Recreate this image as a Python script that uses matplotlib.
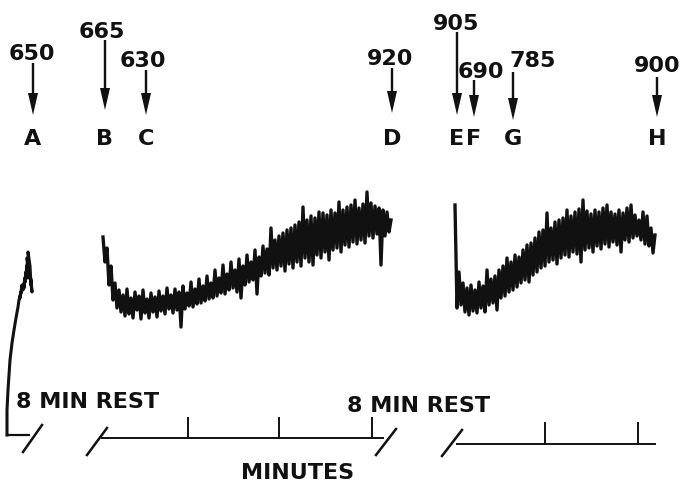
import numpy as np
import matplotlib.pyplot as plt

plt.rcParams['font.family'] = ['DejaVu Sans']

# stimulus markers: letter, value, position on record
marker_labels = ['A', 'B', 'C', 'D', 'E', 'F', 'G', 'H']
marker_values = ['650', '665', '630', '920', '905', '690', '785', '900']
marker_pos = [33, 105, 146, 392, 457, 474, 513, 657]

# where each value text sits (centre x, baseline y) and where its arrow starts/ends
value_text_x = [32, 102, 143, 390, 456, 481, 533, 657]
value_text_y = [60, 38, 67, 65, 30, 78, 67, 72]
arrow_top = [63, 40, 70, 68, 32, 80, 72, 77]
arrow_tip = [115, 110, 115, 113, 115, 117, 120, 117]

# trace 1 - short rising piece before first rest
ramp_x = [7, 7, 8, 10, 12, 14, 16, 18, 19, 21, 20, 22, 23, 25, 24, 26, 25, 27, 28,
          27, 29, 28, 30, 31, 30, 32, 31]
ramp_y = [435, 410, 390, 360, 343, 330, 318, 307, 300, 292, 298, 285, 290, 278, 288,
          272, 282, 265, 278, 258, 270, 252, 266, 285, 275, 292, 280]

# trace 2 - between the two rests (sampled every 2 units from x=103)
trace2_start = 103
trace2_y = [237, 262, 248, 285, 266, 300, 283, 308, 290, 312, 295, 316, 289, 314, 298,
            318, 292, 310, 296, 319, 290, 313, 299, 318, 293, 312, 297, 317, 291, 311,
            296, 314, 288, 309, 295, 313, 289, 310, 292, 327, 286, 309, 293, 306, 282,
            307, 289, 304, 279, 303, 286, 301, 276, 299, 283, 298, 270, 296, 278, 293,
            265, 294, 274, 290, 262, 288, 270, 292, 259, 298, 266, 285, 255, 282, 262,
            280, 250, 294, 257, 276, 246, 273, 249, 275, 228, 268, 240, 270, 236, 266,
            233, 271, 230, 264, 228, 268, 225, 262, 222, 266, 207, 258, 220, 262, 216,
            265, 218, 255, 212, 258, 213, 252, 215, 260, 210, 250, 213, 248, 202, 252,
            210, 245, 207, 247, 205, 242, 200, 244, 208, 240, 204, 243, 192, 236, 203,
            238, 206, 234, 208, 265, 210, 236, 212, 232, 220]

# trace 3 - after second rest (sampled every 2 units from x=455)
trace3_start = 455
trace3_y = [205, 308, 272, 305, 283, 312, 288, 315, 285, 311, 290, 313, 282, 308, 286,
            312, 270, 305, 279, 303, 276, 310, 270, 298, 266, 296, 258, 292, 262, 290,
            255, 287, 257, 283, 250, 280, 245, 282, 243, 275, 238, 272, 232, 268, 230,
            266, 213, 262, 228, 260, 222, 264, 220, 258, 218, 255, 210, 257, 216, 252,
            212, 254, 209, 262, 200, 250, 211, 248, 214, 252, 210, 246, 212, 249, 208,
            244, 205, 247, 212, 242, 214, 245, 210, 252, 213, 240, 208, 242, 205, 238,
            215, 236, 220, 240, 212, 244, 216, 246, 228, 253, 235]

# time axis ticks (one per minute)
ticks1 = [188, 279, 372]
ticks2 = [545, 638]

fig = plt.figure(figsize=(6.82, 4.86), dpi=100)
ax = fig.add_axes([0, 0, 1, 1])
ax.set_xlim(0, 682)
ax.set_ylim(486, 0)
ax.axis('off')

fs = 16
fw = 'bold'
ink = '#111111'

# traces
ax.plot(ramp_x, ramp_y, color=ink, lw=2.2)
x2 = trace2_start + 2 * np.arange(len(trace2_y))
ax.plot(x2, trace2_y, color=ink, lw=2.4)
x3 = trace3_start + 2 * np.arange(len(trace3_y))
ax.plot(x3, trace3_y, color=ink, lw=2.4)

# base of first trace and broken time axis
ax.plot([7, 29], [435, 435], color=ink, lw=1.6)
ax.plot([102, 383], [438, 438], color=ink, lw=1.4)
ax.plot([457, 655], [444, 444], color=ink, lw=1.4)
for t in ticks1:
    ax.plot([t, t], [438, 418], color=ink, lw=1.4)
for t in ticks2:
    ax.plot([t, t], [444, 423], color=ink, lw=1.4)
# break slashes
for (xa, ya, xb, yb) in [(23, 452, 42, 425), (87, 455, 107, 428),
                         (376, 455, 396, 429), (442, 456, 462, 430)]:
    ax.plot([xa, xb], [ya, yb], color=ink, lw=1.8)

ax.text(16, 408, '8 MIN REST', fontsize=fs, fontweight=fw, color=ink,
        ha='left', va='baseline')
ax.text(347, 412, '8 MIN REST', fontsize=fs, fontweight=fw, color=ink,
        ha='left', va='baseline')
ax.text(298, 479, 'MINUTES', fontsize=fs, fontweight=fw, color=ink,
        ha='center', va='baseline')

# markers with arrows
for i in range(len(marker_labels)):
    x = marker_pos[i]
    ax.text(value_text_x[i], value_text_y[i], marker_values[i], fontsize=fs,
            fontweight=fw, color=ink, ha='center', va='baseline')
    ax.arrow(x, arrow_top[i], 0, arrow_tip[i] - arrow_top[i], width=2.4,
             head_width=10, head_length=22, length_includes_head=True,
             color=ink, lw=0)
    ax.text(x, 145, marker_labels[i], fontsize=fs, fontweight=fw, color=ink,
            ha='center', va='baseline')

plt.savefig('out.png', dpi=100)
